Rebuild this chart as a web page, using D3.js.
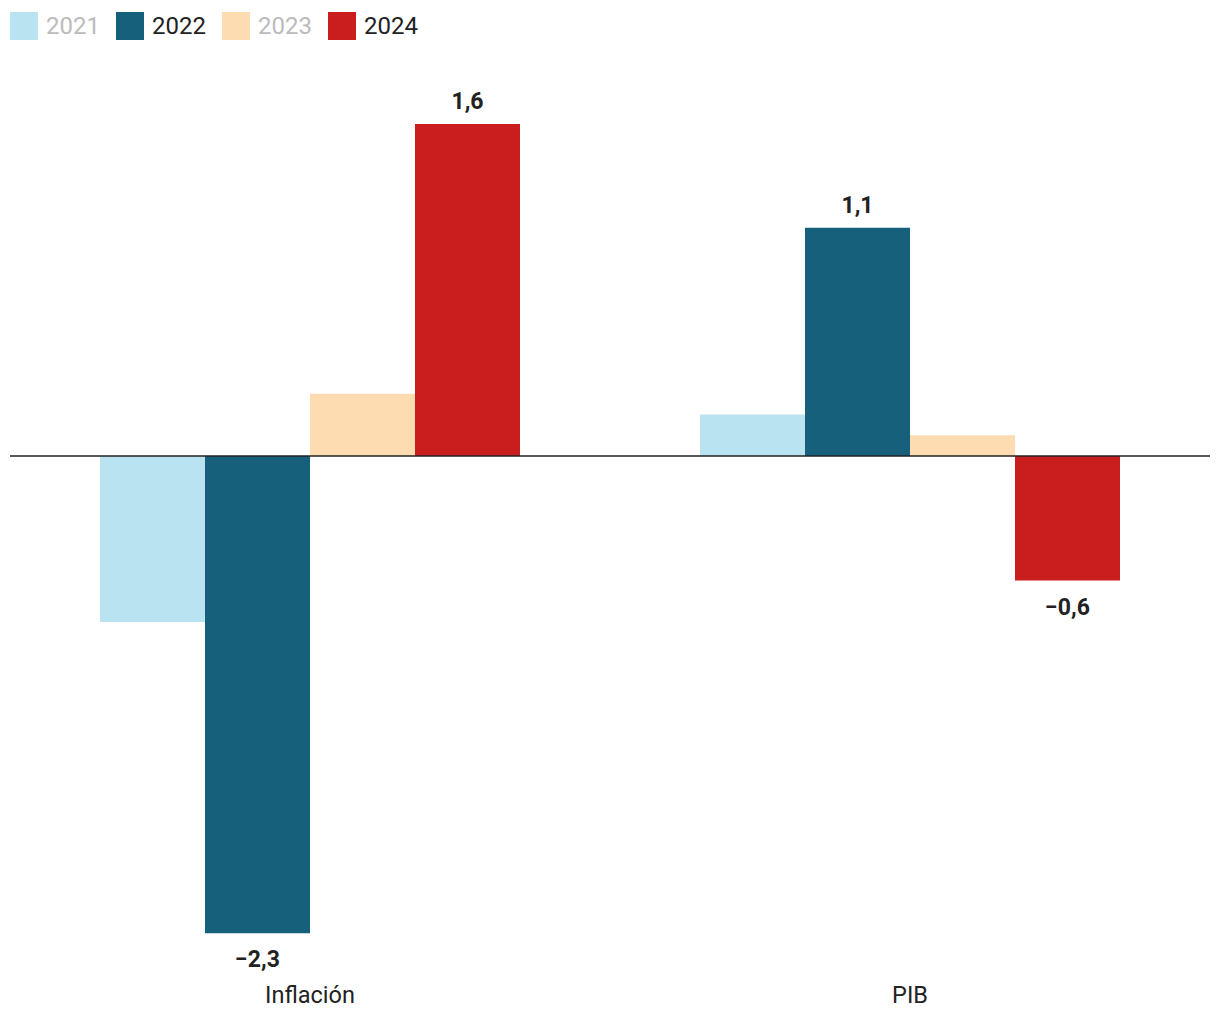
<!DOCTYPE html>
<html><head><meta charset="utf-8">
<script src="https://cdn.jsdelivr.net/npm/d3@7"></script>
<style>body{margin:0;background:#fff;font-family:Roboto,sans-serif;}</style>
</head><body><svg id="c" width="1220" height="1020"></svg>
<script>
const categories = ["Inflación", "PIB"];
const years = ["2021", "2022", "2023", "2024"];
const v2021 = [-0.8, 0.2];
const v2022 = [-2.3, 1.1];
const v2023 = [0.3, 0.1];
const v2024 = [1.6, -0.6];
const colors = ["#b9e3f0", "#17607b", "#fcdcb0", "#c91d1e"];
const labelled = [false, true, false, true];

const seriesVals = [v2021, v2022, v2023, v2024];
const svg = d3.select("#c");
const x0 = d3.scaleBand().domain(categories).range([10, 1210]).paddingInner(0.3).paddingOuter(0.15);
const x1 = d3.scaleBand().domain(years).range([0, x0.bandwidth()]);
const y = d3.scaleLinear().domain([-2.3, 1.6]).range([933.25, 124]);
const fmt = v => (v < 0 ? "\u2212" : "") + d3.format(".1f")(Math.abs(v)).replace(".", ",");

const data = [];
categories.forEach((c, i) => years.forEach((yr, j) => data.push({c, yr, j, v: seriesVals[j][i]})));

svg.append("g").selectAll("rect").data(data).join("rect")
  .attr("x", d => x0(d.c) + x1(d.yr))
  .attr("width", x1.bandwidth())
  .attr("y", d => y(Math.max(0, d.v)))
  .attr("height", d => Math.abs(y(d.v) - y(0)))
  .attr("fill", d => colors[d.j]);

svg.append("line").attr("x1", 10).attr("x2", 1210).attr("y1", y(0)).attr("y2", y(0))
  .attr("stroke", "#222").attr("stroke-width", 1.5);

svg.append("g").selectAll("text").data(data.filter(d => labelled[d.j])).join("text")
  .attr("x", d => x0(d.c) + x1(d.yr) + x1.bandwidth() / 2)
  .attr("y", d => d.v >= 0 ? y(d.v) - 15 : y(d.v) + 34)
  .attr("text-anchor", "middle")
  .attr("font-size", 23).attr("font-weight", 700).attr("fill", "#222")
  .text(d => fmt(d.v));

svg.append("g").selectAll("text").data(categories).join("text")
  .attr("x", d => x0(d) + x0.bandwidth() / 2)
  .attr("y", 1003)
  .attr("text-anchor", "middle")
  .attr("font-size", 23.5).attr("fill", "#222")
  .text(d => d);

const legendX = [10, 116, 222, 328];
const lg = svg.append("g").selectAll("g").data(years).join("g")
  .attr("transform", (d, i) => `translate(${legendX[i]},12)`);
lg.append("rect").attr("width", 28).attr("height", 28).attr("fill", (d, i) => colors[i]);
lg.append("text").attr("x", 36).attr("y", 22).attr("font-size", 24)
  .attr("fill", (d, i) => labelled[i] ? "#222" : "#bbb").text(d => d);
</script></body></html>
